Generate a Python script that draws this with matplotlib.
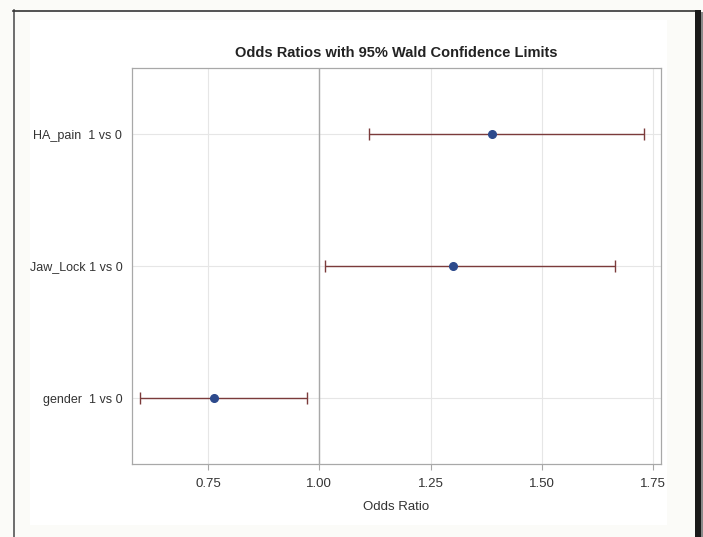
import numpy as np
import matplotlib.pyplot as plt
from matplotlib.lines import Line2D
from matplotlib.patches import Rectangle

plt.rcParams['font.family'] = ['Liberation Sans', 'DejaVu Sans']

# Odds ratio estimates with 95% Wald limits (top to bottom)
labels = ['HA_pain  1 vs 0', 'Jaw_Lock 1 vs 0', 'gender  1 vs 0']
odds_ratio = [1.389, 1.301, 0.764]
lower = [1.112, 1.013, 0.597]
upper = [1.730, 1.665, 0.972]
xticks = [0.75, 1.00, 1.25, 1.50, 1.75]

W, H = 703, 537
fig = plt.figure(figsize=(W / 100, H / 100), dpi=100, facecolor='#fbfbf8')

# white graph area and the framed look of the screenshot
fig.add_artist(Rectangle((30 / W, 1 - 525 / H), (667 - 30) / W, (525 - 20) / H,
                         transform=fig.transFigure, facecolor='white', edgecolor='none',
                         zorder=-10))
fig.add_artist(Line2D([13.5 / W, 13.5 / W], [0, 1 - 10 / H], transform=fig.transFigure,
                      color='#555555', lw=1.2, zorder=5))
fig.add_artist(Line2D([13 / W, 696 / W], [1 - 10.5 / H, 1 - 10.5 / H], transform=fig.transFigure,
                      color='#333333', lw=1.2, zorder=5))
fig.add_artist(Rectangle((694.5 / W, 0), 6 / W, 1 - 10 / H, transform=fig.transFigure,
                         facecolor='#1a1a1a', edgecolor='none', zorder=5))
fig.add_artist(Rectangle((700.5 / W, 0), 2.5 / W, 1 - 12 / H, transform=fig.transFigure,
                         facecolor='#8a8a8a', edgecolor='none', zorder=5))

ax = fig.add_axes([132 / W, 1 - 464 / H, (661 - 132) / W, (464 - 68) / H])
ypos = np.arange(len(labels))
err = [np.array(odds_ratio) - np.array(lower), np.array(upper) - np.array(odds_ratio)]

ax.axvline(1.0, color='#a8a8a8', lw=1.0, zorder=1)
ax.errorbar(odds_ratio, ypos, xerr=err, fmt='none', ecolor='#7b3b3b', elinewidth=1.0,
            capsize=4, capthick=1.0, zorder=3)
ax.plot(odds_ratio, ypos, 'o', color='#2d4a8c', markersize=5.5, zorder=4)

ax.set_xlim(0.579, 1.768)
ax.set_ylim(2.5, -0.5)
ax.set_xticks(xticks)
ax.set_xticklabels([f'{v:.2f}' for v in xticks])
ax.set_yticks(ypos)
ax.set_yticklabels(labels)
ax.grid(True, color='#e6e6e6', lw=0.8, zorder=0)
ax.set_axisbelow(True)

for s in ax.spines.values():
    s.set_color('#a8a8a8')
    s.set_linewidth(0.9)
ax.tick_params(axis='x', length=4, color='#a8a8a8', labelsize=9.5, labelcolor='#333333', pad=6)
ax.tick_params(axis='y', length=0, labelsize=9, labelcolor='#333333', pad=7)

ax.set_title('Odds Ratios with 95% Wald Confidence Limits', fontsize=10.5,
             fontweight='bold', color='#222222', pad=8)
ax.set_xlabel('Odds Ratio', fontsize=9.5, color='#333333', labelpad=8)

fig.savefig('out.png', dpi=100, facecolor=fig.get_facecolor())
